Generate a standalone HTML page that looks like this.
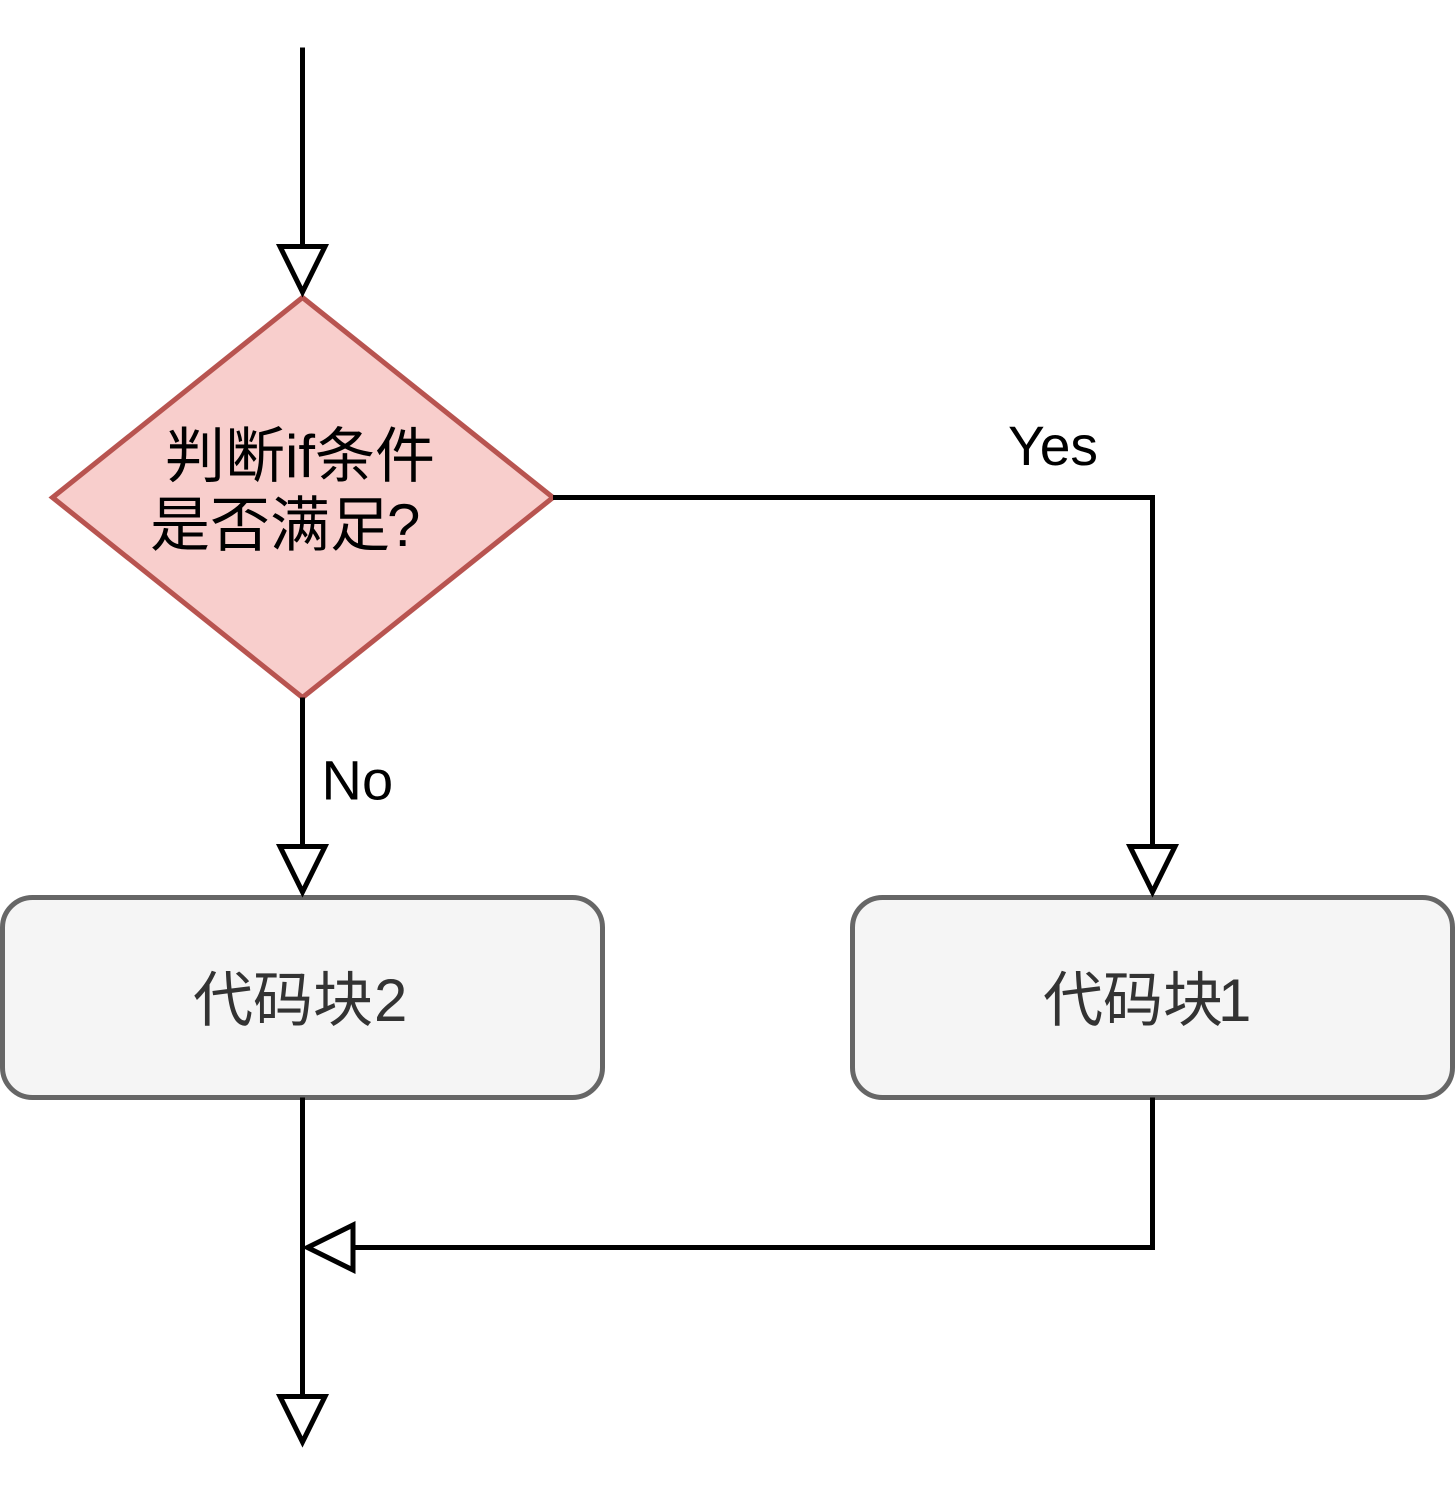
<!DOCTYPE html>
<html>
<head>
<meta charset="utf-8">
<style>
html,body{margin:0;padding:0;background:#fff;width:1455px;height:1500px;overflow:hidden}
svg{display:block}
text{font-family:"Liberation Sans","Noto Sans CJK SC",sans-serif}
</style>
</head>
<body>
<svg width="1455" height="1500" viewBox="0 0 1455 1500" xmlns="http://www.w3.org/2000/svg">
<rect width="1455" height="1500" fill="#fff"/>
<polygon points="302.5,297.5 553,497.5 302.5,697.5 52.5,497.5" fill="#f8cecc" stroke="#b85450" stroke-width="5" stroke-miterlimit="10"/>
<rect x="2.5" y="897.5" width="600" height="200" rx="30" ry="30" fill="#f5f5f5" stroke="#666" stroke-width="5"/>
<rect x="852.5" y="897.5" width="600" height="200" rx="30" ry="30" fill="#f5f5f5" stroke="#666" stroke-width="5"/>
<g fill="none" stroke="#000" stroke-width="5" stroke-miterlimit="10">
<path d="M302.5 47.5V247"/>
<path d="M302.5 697.5V847"/>
<path d="M553 497.5H1152.5V847"/>
<path d="M302.5 1097.5V1397"/>
<path d="M1152.5 1097.5V1247.5H353"/>
<g fill="#fff">
<polygon points="280,246.5 325,246.5 302.5,292"/>
<polygon points="280,846.5 325,846.5 302.5,892"/>
<polygon points="1130,846.5 1175,846.5 1152.5,892"/>
<polygon points="280,1396.5 325,1396.5 302.5,1442"/>
<polygon points="353,1225 353,1270 307.5,1247.5"/>
</g>
</g>
<text x="165" y="477" font-size="60" fill="#000">判断if条件</text>
<text x="150" y="546" font-size="60" fill="#000">是否满足<tspan dx="-3">?</tspan></text>
<text x="1008" y="465" font-size="56" fill="#000" textLength="90" lengthAdjust="spacingAndGlyphs">Yes</text>
<text x="321.5" y="799.5" font-size="56" fill="#000">No</text>
<text x="193" y="1021" font-size="60" fill="#333">代码块<tspan dx="1">2</tspan></text>
<text x="1043" y="1021" font-size="60" fill="#333">代码块<tspan dx="-5">1</tspan></text>
</svg>
</body>
</html>
